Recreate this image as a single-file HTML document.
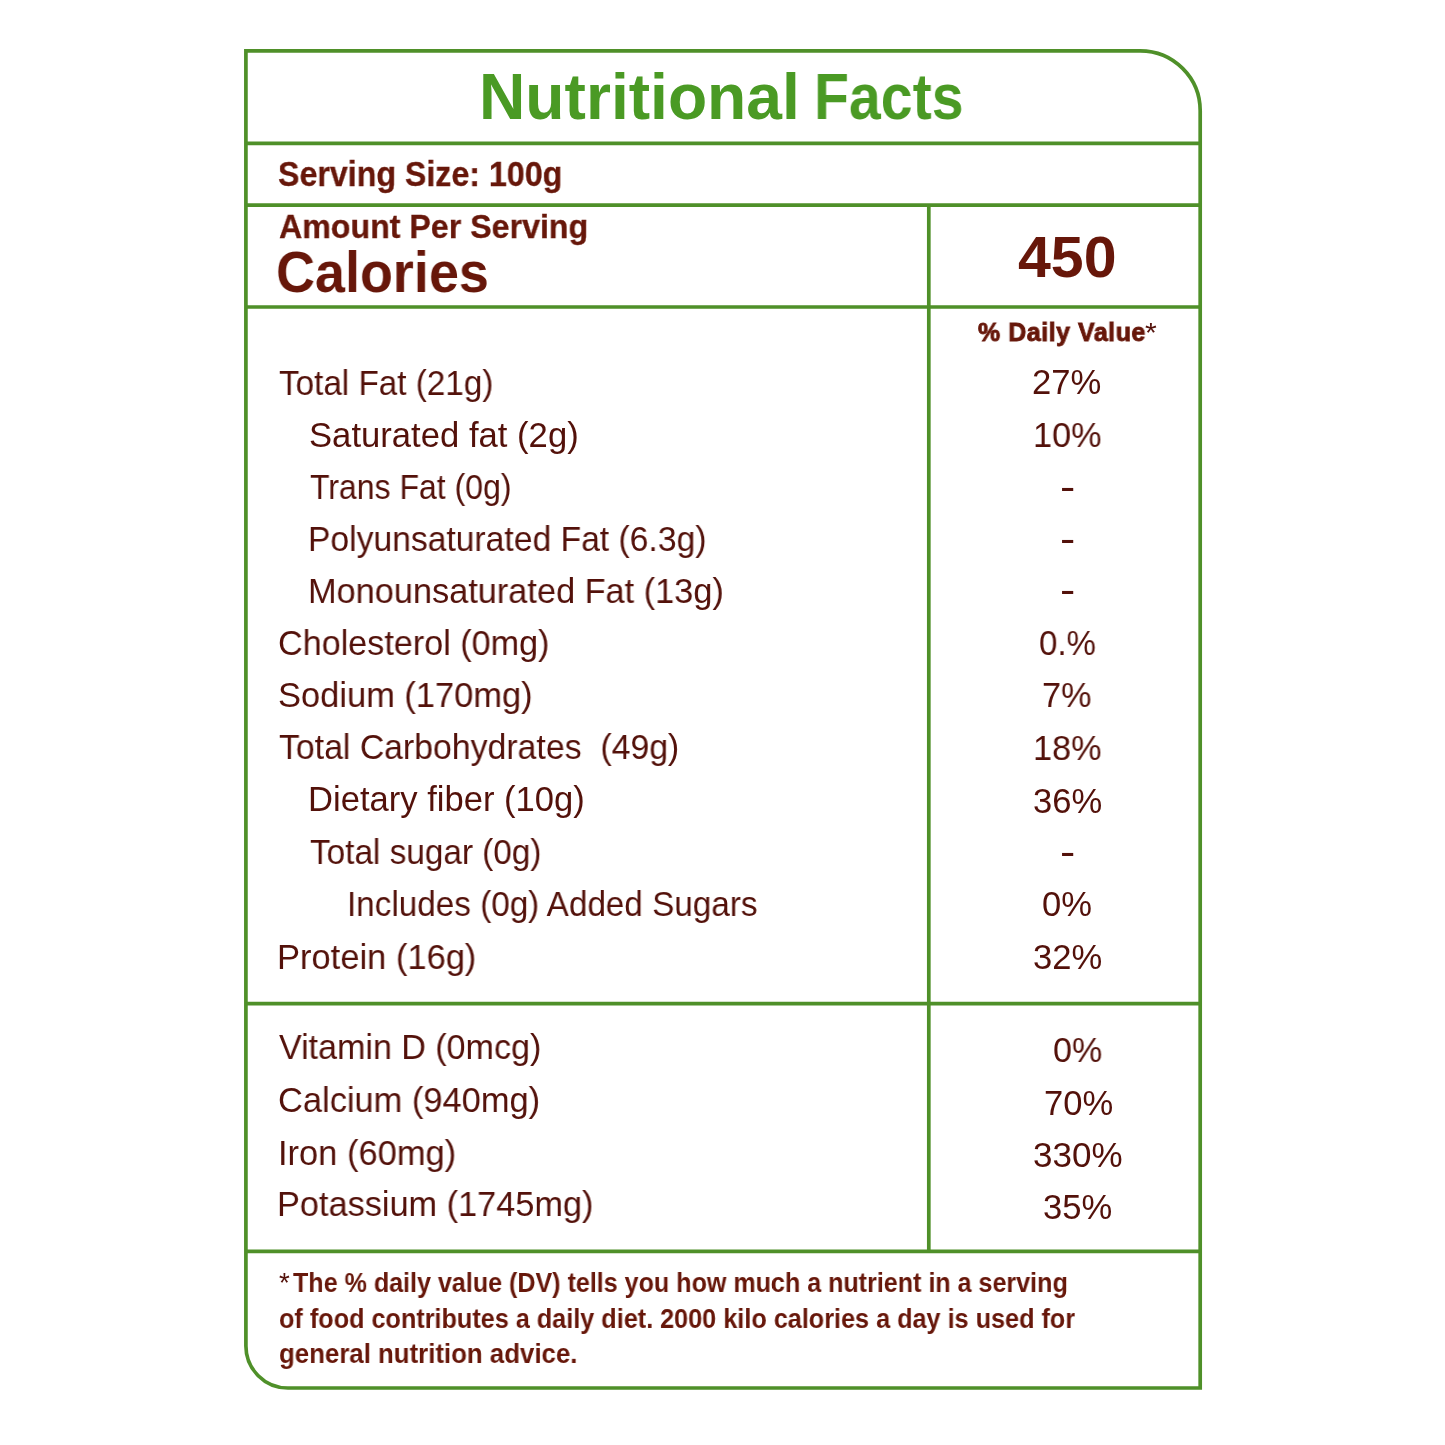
<!DOCTYPE html>
<html lang="en"><head><meta charset="utf-8"><title>Nutritional Facts</title>
<style>
html,body{margin:0;padding:0;background:#fff}
body{width:1445px;height:1445px;position:relative;overflow:hidden;font-family:"Liberation Sans",sans-serif;color:#53110a}
.frame{position:absolute;left:0;top:0}
.t{position:absolute;white-space:nowrap;line-height:1;transform-origin:0 0;font-weight:400;will-change:transform}
.b{font-weight:700;color:#67170a}
</style></head><body>
<svg class="frame" width="1445" height="1445" viewBox="0 0 1445 1445">
<g fill="none" stroke="#4f9029" stroke-width="3.7">
<path d="M245.9 50.8 H1140.2 A60 60 0 0 1 1200.2 110.8 V1388 H287.9 A42 42 0 0 1 245.9 1346 Z"/>
<path d="M245.9 143.4 H1200.2 M245.9 205.2 H1200.2 M245.9 307 H1200.2 M245.9 1003.7 H1200.2 M245.9 1251.3 H1200.2 M928.8 205.2 V1251.3"/>
</g></svg>
<div class="t b" style="left:479.31px;top:66.31px;font-size:63.95px;transform:scaleX(1.0036);color:#4a9a24">Nutritional</div>
<div class="t b" style="left:813.87px;top:66.31px;font-size:63.95px;transform:scaleX(0.8949);color:#4a9a24">Facts</div>
<div class="t b" style="left:277.91px;top:157.10px;font-size:34.74px;transform:scaleX(0.9262);-webkit-text-stroke:0.3px #67170a">Serving Size: 100g</div>
<div class="t b" style="left:279.24px;top:210.40px;font-size:33.87px;transform:scaleX(0.9499);-webkit-text-stroke:0.3px #67170a">Amount Per Serving</div>
<div class="t b" style="left:276.49px;top:243.50px;font-size:57.85px;transform:scaleX(0.9327)">Calories</div>
<div class="t b" style="left:1017.91px;top:228.60px;font-size:57.56px;transform:scaleX(1.0260)">450</div>
<div class="t b" style="left:978.11px;top:320.20px;font-size:25.87px;transform:scaleX(0.9618);letter-spacing:0.6px;-webkit-text-stroke:0.9px #67170a">% Daily Value</div>
<div class="t" style="left:1145.11px;top:319.83px;font-size:26.77px;transform:scaleX(1.1283)">*</div>
<div class="t" style="left:278.85px;top:365.62px;font-size:34.59px;transform:scaleX(0.9613)">Total Fat (21g)</div>
<div class="t" style="left:309.03px;top:417.81px;font-size:34.59px;transform:scaleX(1.0023)">Saturated fat (2g)</div>
<div class="t" style="left:310.28px;top:469.71px;font-size:34.59px;transform:scaleX(0.9253)">Trans Fat (0g)</div>
<div class="t" style="left:308.24px;top:522.31px;font-size:34.59px;transform:scaleX(0.9732)">Polyunsaturated Fat (6.3g)</div>
<div class="t" style="left:308.18px;top:574.21px;font-size:34.59px;transform:scaleX(0.9924)">Monounsaturated Fat (13g)</div>
<div class="t" style="left:277.86px;top:625.90px;font-size:34.59px;transform:scaleX(0.9878)">Cholesterol (0mg)</div>
<div class="t" style="left:278.03px;top:677.81px;font-size:34.59px;transform:scaleX(0.9965)">Sodium (170mg)</div>
<div class="t" style="left:278.84px;top:730.40px;font-size:34.59px;transform:scaleX(0.9777)">Total Carbohydrates&nbsp; (49g)</div>
<div class="t" style="left:308.17px;top:782.31px;font-size:34.59px;transform:scaleX(0.9991)">Dietary fiber (10g)</div>
<div class="t" style="left:310.25px;top:834.90px;font-size:34.59px;transform:scaleX(0.9632)">Total sugar (0g)</div>
<div class="t" style="left:346.73px;top:887.01px;font-size:34.59px;transform:scaleX(0.9619)">Includes (0g) Added Sugars</div>
<div class="t" style="left:276.57px;top:939.51px;font-size:34.59px;transform:scaleX(0.9974)">Protein (16g)</div>
<div class="t" style="left:279.45px;top:1030.21px;font-size:34.59px;transform:scaleX(0.9843)">Vitamin D (0mcg)</div>
<div class="t" style="left:277.95px;top:1082.81px;font-size:34.59px;transform:scaleX(0.9955)">Calcium (940mg)</div>
<div class="t" style="left:277.82px;top:1135.51px;font-size:34.59px;transform:scaleX(0.9966)">Iron (60mg)</div>
<div class="t" style="left:277.19px;top:1186.81px;font-size:34.59px;transform:scaleX(0.9919)">Potassium (1745mg)</div>
<div class="t" style="left:1032.26px;top:365.21px;font-size:34.59px;transform:scaleX(1.0023)">27%</div>
<div class="t" style="left:1033.09px;top:417.71px;font-size:34.59px;transform:scaleX(0.9900)">10%</div>
<div class="t" style="left:1060.06px;top:467.81px;font-size:38.4px;transform:scaleX(1.1935)">-</div>
<div class="t" style="left:1060.06px;top:519.61px;font-size:38.4px;transform:scaleX(1.1935)">-</div>
<div class="t" style="left:1060.06px;top:571.20px;font-size:38.4px;transform:scaleX(1.1935)">-</div>
<div class="t" style="left:1038.51px;top:625.62px;font-size:34.59px;transform:scaleX(0.9560)">0.%</div>
<div class="t" style="left:1042.44px;top:677.62px;font-size:34.59px;transform:scaleX(0.9898)">7%</div>
<div class="t" style="left:1033.09px;top:730.90px;font-size:34.59px;transform:scaleX(0.9900)">18%</div>
<div class="t" style="left:1032.69px;top:783.51px;font-size:34.59px;transform:scaleX(0.9960)">36%</div>
<div class="t" style="left:1060.06px;top:832.70px;font-size:38.4px;transform:scaleX(1.1935)">-</div>
<div class="t" style="left:1041.65px;top:887.21px;font-size:34.59px;transform:scaleX(0.9958)">0%</div>
<div class="t" style="left:1032.69px;top:940.01px;font-size:34.59px;transform:scaleX(0.9960)">32%</div>
<div class="t" style="left:1052.87px;top:1033.01px;font-size:34.59px;transform:scaleX(0.9852)">0%</div>
<div class="t" style="left:1043.74px;top:1085.90px;font-size:34.59px;transform:scaleX(0.9938)">70%</div>
<div class="t" style="left:1032.97px;top:1137.81px;font-size:34.59px;transform:scaleX(1.0128)">330%</div>
<div class="t" style="left:1043.38px;top:1190.12px;font-size:34.59px;transform:scaleX(0.9990)">35%</div>
<div class="t" style="left:279.45px;top:1269.83px;font-size:26.77px;transform:scaleX(1.0342)">*</div>
<div class="t b" style="left:292.52px;top:1269.80px;font-size:26.74px;transform:scaleX(0.9380)">The % daily value (DV) tells you how much a nutrient in a serving</div>
<div class="t b" style="left:279.01px;top:1305.61px;font-size:26.74px;transform:scaleX(0.9434)">of food contributes a daily diet. 2000 kilo calories a day is used for</div>
<div class="t b" style="left:278.94px;top:1341.30px;font-size:26.74px;transform:scaleX(0.9658)">general nutrition advice.</div>
</body></html>
